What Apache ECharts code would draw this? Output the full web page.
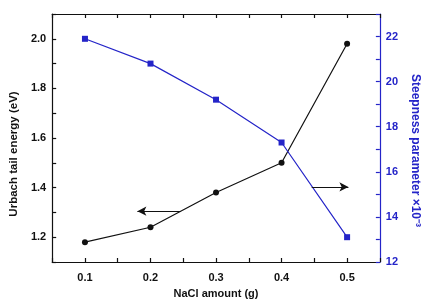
<!DOCTYPE html>
<html><head><meta charset="utf-8">
<script src="https://cdn.jsdelivr.net/npm/echarts@6/dist/echarts.min.js"></script>
<style>html,body{margin:0;padding:0;background:#fff}#c{width:429px;height:307px}</style>
</head><body><div id="c"></div>
<script>
var nacl = [0.1, 0.2, 0.3, 0.4, 0.5];
var urbach = [1.18, 1.24, 1.38, 1.50, 1.98];
var steepness = [21.9, 20.8, 19.2, 17.3, 13.1];
var arrowLeft = [[0.246, 1.305], [0.18, 1.305]];
var arrowRight = [[0.446, 15.33], [0.502, 15.33]];

var BLUE = '#2424c8';
var FONT = 'Liberation Sans, Arial, sans-serif';
function pairs(xs, ys){ return xs.map(function(x,i){ return [x, ys[i]]; }); }

var chart = echarts.init(document.getElementById('c'), null, {renderer:'canvas'});
chart.setOption({
  animation: false,
  grid: {left: 51, right: 44, top: 14, bottom: 45},
  xAxis: [{
    type: 'value', position: 'bottom', min: 0.05, max: 0.55, interval: 0.05,
    name: 'NaCl amount (g)', nameLocation: 'middle', nameGap: 26,
    nameTextStyle: {fontFamily: FONT, fontWeight: 'bold', fontSize: 11, color: '#111'},
    axisLine: {lineStyle: {color: '#111', width: 1.2}},
    axisTick: {inside: true, length: 4, lineStyle: {color: '#111', width: 1.2}},
    axisLabel: {fontFamily: FONT, fontWeight: 'bold', fontSize: 11, color: '#111', margin: 10,
      formatter: function(v){ return Math.round(v*100) % 10 === 0 ? v.toFixed(1) : ''; }},
    splitLine: {show: false}
  }, {
    type: 'value', position: 'top', min: 0.05, max: 0.55, interval: 0.05,
    axisLine: {lineStyle: {color: '#111', width: 1.2}},
    axisTick: {inside: true, length: 4, lineStyle: {color: '#111', width: 1.2}},
    axisLabel: {show: false}, splitLine: {show: false}
  }],
  yAxis: [{
    type: 'value', position: 'left', min: 1.1, max: 2.1, interval: 0.1,
    name: 'Urbach tail energy (eV)', nameLocation: 'middle', nameGap: 28,
    nameTextStyle: {fontFamily: FONT, fontWeight: 'bold', fontSize: 11.5, color: '#111', padding: [0, 32, 0, 0]},
    axisLine: {show: true, lineStyle: {color: '#111', width: 1.2}},
    axisTick: {show: true, inside: true, length: 4, lineStyle: {color: '#111', width: 1.2}},
    axisLabel: {fontFamily: FONT, fontWeight: 'bold', fontSize: 11, color: '#111', margin: 6,
      formatter: function(v){ return Math.round(v*10) % 2 === 0 ? v.toFixed(1) : ''; }},
    splitLine: {show: false}
  }, {
    type: 'value', position: 'right', min: 12, max: 23, interval: 1,
    name: 'Steepness parameter \u00d710\u207b\u00b3', nameLocation: 'middle', nameGap: 27, nameRotate: -90,
    nameTextStyle: {fontFamily: FONT, fontWeight: 'bold', fontSize: 12, color: BLUE, padding: [0, 0, 0, 25]},
    axisLine: {show: true, lineStyle: {color: BLUE, width: 1.2}},
    axisTick: {show: true, inside: true, length: 4, lineStyle: {color: BLUE, width: 1.2}},
    axisLabel: {fontFamily: FONT, fontWeight: 'bold', fontSize: 11, color: BLUE, margin: 6,
      formatter: function(v){ return v % 2 === 0 ? String(v) : ''; }},
    splitLine: {show: false}
  }],
  series: [{
    type: 'line', xAxisIndex: 0, yAxisIndex: 0, data: pairs(nacl, urbach),
    symbol: 'circle', symbolSize: 6,
    lineStyle: {color: '#111', width: 1.2}, itemStyle: {color: '#111'},
    markLine: {silent: true, symbol: ['none', 'arrow'], symbolSize: [7, 9], label: {show: false},
      lineStyle: {color: '#111', width: 1.2, type: 'solid'},
      data: [[{coord: arrowLeft[0]}, {coord: arrowLeft[1]}]]}
  }, {
    type: 'line', xAxisIndex: 0, yAxisIndex: 1, data: pairs(nacl, steepness),
    symbol: 'rect', symbolSize: 6,
    lineStyle: {color: BLUE, width: 1.2}, itemStyle: {color: BLUE},
    markLine: {silent: true, symbol: ['none', 'arrow'], symbolSize: [7, 9], label: {show: false},
      lineStyle: {color: '#111', width: 1.2, type: 'solid'},
      data: [[{coord: arrowRight[0]}, {coord: arrowRight[1]}]]}
  }]
});
</script></body></html>
